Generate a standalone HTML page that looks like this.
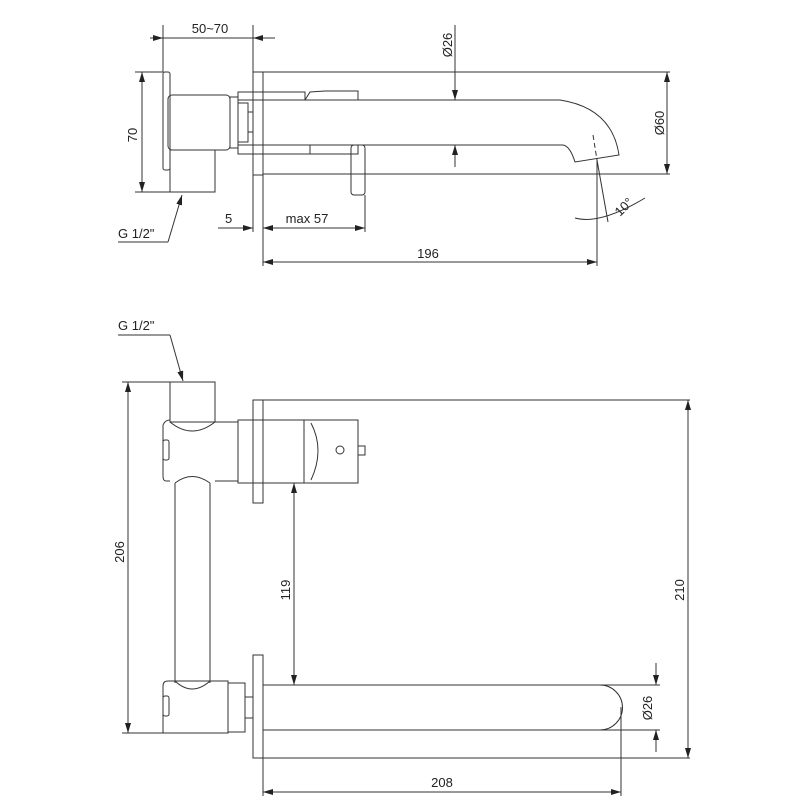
<!DOCTYPE html>
<html><head><meta charset="utf-8"><style>
html,body{margin:0;padding:0;background:#fff}
svg{display:block}
text{font-family:"Liberation Sans Narrow","Liberation Sans",sans-serif;font-size:13px;fill:#222}
</style></head><body>
<svg width="800" height="800" viewBox="0 0 800 800" xmlns="http://www.w3.org/2000/svg">
<defs>
<marker id="a" markerWidth="10" markerHeight="6" refX="10" refY="3" orient="auto-start-reverse" markerUnits="userSpaceOnUse">
<path d="M0,0 L10,3 L0,6 Z" fill="#222"/></marker>
</defs>
<g stroke="#333" stroke-width="1" fill="none">
<!-- ===== TOP VIEW ===== -->
<!-- 50~70 dim -->
<line x1="150" y1="38" x2="163" y2="38" marker-end="url(#a)"/>
<line x1="163" y1="38" x2="253" y2="38"/>
<line x1="275" y1="38" x2="253" y2="38" marker-end="url(#a)"/>
<line x1="163" y1="25" x2="163" y2="72"/>
<line x1="253" y1="25" x2="253" y2="232"/>
<!-- back plate -->
<rect x="163" y="72" width="7" height="98" rx="2"/>
<!-- body -->
<rect x="168" y="95" width="62" height="55" rx="4"/>
<rect x="230" y="97" width="8" height="51"/>
<rect x="238" y="103" width="10" height="39"/>
<rect x="248" y="112" width="5" height="20"/>
<rect x="170" y="150" width="45" height="42"/>
<!-- wall plate -->
<rect x="253" y="72" width="10" height="103"/>
<!-- pipe / handle -->
<line x1="263" y1="72" x2="670" y2="72"/>
<line x1="263" y1="174" x2="670" y2="174"/>
<rect x="238" y="92" width="67" height="8"/>
<path d="M305,100 L310,92 L325,91 L358,91 L358,100"/>
<rect x="238" y="145" width="72" height="9"/>
<rect x="310" y="145" width="48" height="9"/>
<rect x="351" y="145" width="14" height="50" rx="3"/>
<!-- spout -->
<path d="M263,100 L560,100 Q612,108 619,155 L575,162 Q570,146 563,145 L263,145"/>
<line x1="593" y1="135" x2="597" y2="160" stroke-dasharray="5,3"/>
<!-- Ø26 -->
<line x1="455" y1="25" x2="455" y2="100" marker-end="url(#a)"/>
<line x1="455" y1="167" x2="455" y2="145" marker-end="url(#a)"/>
<!-- Ø60 -->
<line x1="667" y1="72" x2="667" y2="174" marker-start="url(#a)" marker-end="url(#a)"/>
<!-- 70 -->
<line x1="135" y1="72" x2="163" y2="72"/>
<line x1="135" y1="192" x2="212" y2="192"/>
<line x1="142" y1="72" x2="142" y2="192" marker-start="url(#a)" marker-end="url(#a)"/>
<!-- G1/2 leader -->
<line x1="118" y1="242" x2="168" y2="242"/>
<line x1="168" y1="242" x2="182" y2="195" marker-end="url(#a)"/>
<!-- 5 / max57 -->
<line x1="218" y1="228" x2="253" y2="228" marker-end="url(#a)"/>
<line x1="263" y1="228" x2="365" y2="228" marker-start="url(#a)" marker-end="url(#a)"/>
<line x1="263" y1="175" x2="263" y2="266"/>
<line x1="365" y1="195" x2="365" y2="232"/>
<!-- 196 -->
<line x1="263" y1="262" x2="597" y2="262" marker-start="url(#a)" marker-end="url(#a)"/>
<line x1="597" y1="160" x2="597" y2="266"/>
<line x1="597" y1="160" x2="608" y2="222"/>
<path d="M575,218 Q600,225 645,198"/>
<!-- ===== BOTTOM VIEW ===== -->
<line x1="118" y1="335" x2="170" y2="335"/>
<line x1="170" y1="335" x2="183" y2="381" marker-end="url(#a)"/>
<rect x="170" y="382" width="45" height="40"/>
<path d="M170,422 Q192,440 215,422"/>
<path d="M163,425 Q165,420 170,420 M215,422 L238,422 L238,481 L215,481 M170,481 L166,481 Q163,481 163,476 L163,425"/>
<path d="M175,483 Q192,470 210,483"/>
<rect x="163" y="440" width="6" height="20" rx="2"/>
<rect x="238" y="420" width="66" height="63"/>
<rect x="253" y="400" width="10" height="103"/>
<path d="M304,420 L358,420 L358,483 L304,483"/>
<path d="M311,423 Q325,450 311,480"/>
<circle cx="340" cy="450" r="4"/>
<rect x="358" y="446" width="7" height="9"/>
<line x1="263" y1="400" x2="690" y2="400"/>
<!-- vertical pipe -->
<line x1="175" y1="483" x2="175" y2="683"/>
<line x1="210" y1="483" x2="210" y2="683"/>
<!-- lower body -->
<path d="M168,681 L228,681 L228,733 L163,733 L163,686 Q163,681 168,681"/>
<path d="M175,681 Q192,697 210,681"/>
<rect x="163" y="696" width="6" height="20" rx="2"/>
<rect x="228" y="683" width="17" height="49"/>
<rect x="245" y="697" width="8" height="21"/>
<rect x="253" y="655" width="10" height="103"/>
<!-- spout -->
<path d="M263,685 L600,685 A22,22 0 0 1 600,730 L263,730"/>
<line x1="263" y1="758" x2="690" y2="758"/>
<!-- 206 -->
<line x1="122" y1="382" x2="170" y2="382"/>
<line x1="122" y1="733" x2="163" y2="733"/>
<line x1="128" y1="382" x2="128" y2="733" marker-start="url(#a)" marker-end="url(#a)"/>
<!-- 119 -->
<line x1="294" y1="483" x2="294" y2="685" marker-start="url(#a)" marker-end="url(#a)"/>
<!-- 210 -->
<line x1="688" y1="400" x2="688" y2="758" marker-start="url(#a)" marker-end="url(#a)"/>
<!-- Ø26 -->
<line x1="600" y1="685" x2="660" y2="685"/>
<line x1="600" y1="730" x2="660" y2="730"/>
<line x1="656" y1="663" x2="656" y2="685" marker-end="url(#a)"/>
<line x1="656" y1="752" x2="656" y2="730" marker-end="url(#a)"/>
<!-- 208 -->
<line x1="263" y1="758" x2="263" y2="796"/>
<line x1="621" y1="707" x2="621" y2="796"/>
<line x1="263" y1="792" x2="621" y2="792" marker-start="url(#a)" marker-end="url(#a)"/>
</g>
<g>
<text x="210" y="33" text-anchor="middle">50~70</text>
<text x="118" y="238">G 1/2"</text>
<text x="225" y="223">5</text>
<text x="307" y="223" text-anchor="middle">max 57</text>
<text x="428" y="258" text-anchor="middle">196</text>
<text transform="translate(452,45) rotate(-90)" text-anchor="middle">Ø26</text>
<text transform="translate(664,123) rotate(-90)" text-anchor="middle">Ø60</text>
<text transform="translate(137,135) rotate(-90)" text-anchor="middle">70</text>
<text transform="translate(627,210) rotate(-45)" text-anchor="middle">10°</text>
<text x="118" y="330">G 1/2"</text>
<text transform="translate(124,552) rotate(-90)" text-anchor="middle">206</text>
<text transform="translate(290,590) rotate(-90)" text-anchor="middle">119</text>
<text transform="translate(684,590) rotate(-90)" text-anchor="middle">210</text>
<text transform="translate(652,708) rotate(-90)" text-anchor="middle">Ø26</text>
<text x="442" y="787" text-anchor="middle">208</text>
</g>
</svg>
</body></html>
